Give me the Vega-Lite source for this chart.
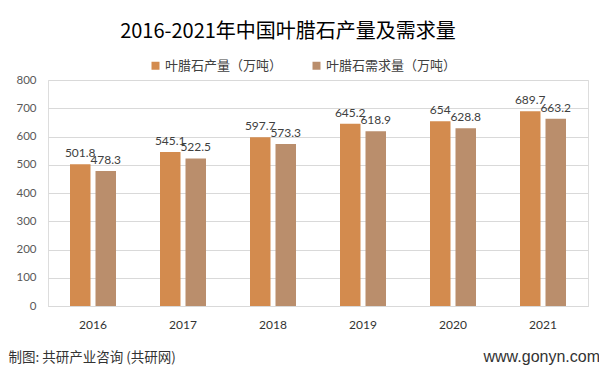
{
  "$schema": "https://vega.github.io/schema/vega-lite/v6.json",
  "width": 540,
  "height": 226,
  "autosize": {"type": "none"},
  "padding": {"left": 48, "top": 80, "right": 11, "bottom": 67},
  "background": "white",
  "title": {
    "text": "2016-2021年中国叶腊石产量及需求量",
    "font": "Noto Sans CJK SC",
    "fontSize": 20,
    "fontWeight": "normal",
    "color": "#000000",
    "anchor": "middle",
    "dx": -30,
    "offset": 17
  },
  "data": {
    "values": [
      {"year": "2016", "series": "叶腊石产量（万吨）", "value": 501.8},
      {"year": "2016", "series": "叶腊石需求量（万吨）", "value": 478.3},
      {"year": "2017", "series": "叶腊石产量（万吨）", "value": 545.1},
      {"year": "2017", "series": "叶腊石需求量（万吨）", "value": 522.5},
      {"year": "2018", "series": "叶腊石产量（万吨）", "value": 597.7},
      {"year": "2018", "series": "叶腊石需求量（万吨）", "value": 573.3},
      {"year": "2019", "series": "叶腊石产量（万吨）", "value": 645.2},
      {"year": "2019", "series": "叶腊石需求量（万吨）", "value": 618.9},
      {"year": "2020", "series": "叶腊石产量（万吨）", "value": 654},
      {"year": "2020", "series": "叶腊石需求量（万吨）", "value": 628.8},
      {"year": "2021", "series": "叶腊石产量（万吨）", "value": 689.7},
      {"year": "2021", "series": "叶腊石需求量（万吨）", "value": 663.2}
    ]
  },
  "encoding": {
    "x": {
      "field": "year",
      "type": "nominal",
      "scale": {"paddingInner": 0.489, "paddingOuter": 0.2445},
      "axis": {
        "labelAngle": 0,
        "labelFont": "Lato",
        "labelFontSize": 12,
        "labelColor": "#333333",
        "labelPadding": 13,
        "ticks": false,
        "domainColor": "#D9D9D9",
        "domainWidth": 1,
        "title": "www.gonyn.com",
        "titleFont": "Liberation Sans",
        "titleFontSize": 16,
        "titleFontWeight": "normal",
        "titleColor": "#333333",
        "titleX": 435,
        "titleY": 50,
        "titleAlign": "left",
        "titleBaseline": "middle"
      }
    },
    "xOffset": {
      "field": "series",
      "type": "nominal",
      "sort": ["叶腊石产量（万吨）", "叶腊石需求量（万吨）"],
      "scale": {"paddingInner": 0.196, "paddingOuter": 0}
    },
    "y": {
      "field": "value",
      "type": "quantitative",
      "scale": {"domain": [0, 800], "nice": false},
      "axis": {
        "values": [0, 100, 200, 300, 400, 500, 600, 700, 800],
        "labelFont": "Lato",
        "labelFontSize": 11.5,
        "labelColor": "#595959",
        "labelPadding": 12,
        "ticks": false,
        "domain": false,
        "gridColor": "#D9D9D9",
        "gridWidth": 1,
        "title": "制图: 共研产业咨询 (共研网)",
        "titleAngle": 0,
        "titleFont": "Noto Sans CJK SC",
        "titleFontSize": 13.5,
        "titleFontWeight": "normal",
        "titleColor": "#333333",
        "titleX": -40,
        "titleY": 277,
        "titleAlign": "left",
        "titleBaseline": "middle"
      }
    }
  },
  "layer": [
    {
      "mark": {"type": "bar"},
      "encoding": {
        "color": {
          "field": "series",
          "type": "nominal",
          "sort": ["叶腊石产量（万吨）", "叶腊石需求量（万吨）"],
          "scale": {"range": ["#D38B4E", "#BA8E6C"]},
          "legend": {
            "title": null,
            "orient": "none",
            "legendX": 101,
            "legendY": -21,
            "direction": "horizontal",
            "symbolType": "square",
            "symbolSize": 64,
            "symbolStrokeWidth": 0,
            "labelFont": "Noto Sans CJK SC",
            "labelFontSize": 13,
            "labelColor": "#404040",
            "labelOffset": 3,
            "columnPadding": 27
          }
        }
      }
    },
    {
      "mark": {
        "type": "text",
        "baseline": "bottom",
        "dy": -4,
        "font": "Lato",
        "fontSize": 12,
        "color": "#404040"
      },
      "encoding": {
        "text": {"field": "value", "type": "quantitative"}
      }
    }
  ]
}
